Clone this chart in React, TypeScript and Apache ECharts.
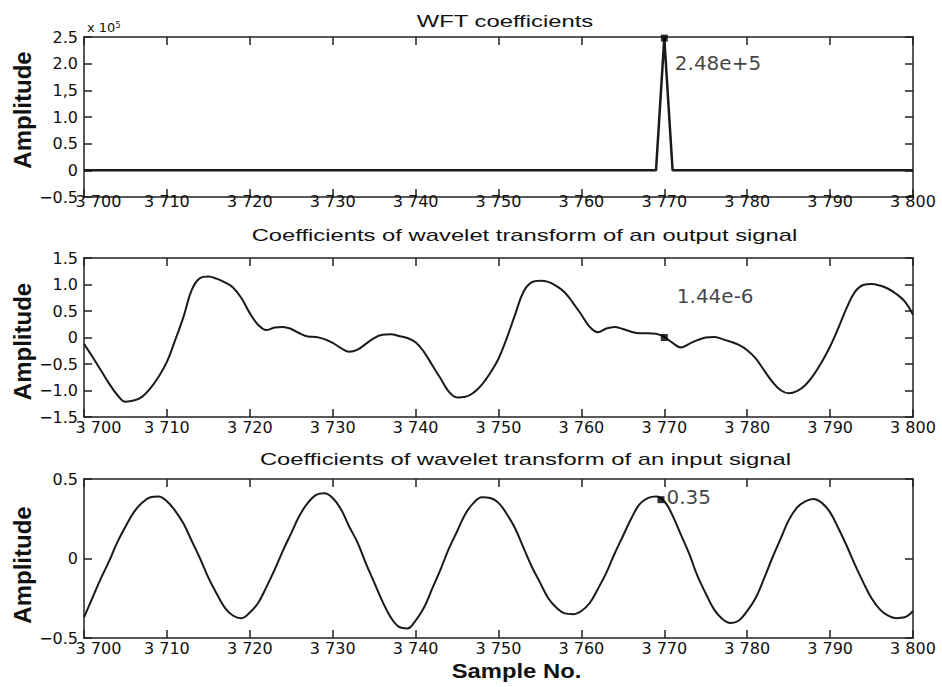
import React, { useEffect, useRef } from "react";
import * as echarts from "echarts";

// ---------- data ----------
const sampleStart = 3700;
const sampleEnd = 3800;
const xTickLabels = ["3 700", "3 710", "3 720", "3 730", "3 740", "3 750", "3 760", "3 770", "3 780", "3 790", "3 800"];

// WFT coefficients (flat zero line with a single spike)
const wftSamples = [3700, 3769, 3770, 3771, 3800];
const wftValues = [0, 0, 248000, 0, 0];
const wftTickLabels = ["\u22120.5", "0", "0.5", "1.0", "1,5", "2.0", "2.5"];

// Coefficients of wavelet transform of an output signal (samples 3700..3800)
const outputValues = [
  -0.12, -0.36, -0.61, -0.86, -1.08, -1.21, -1.19, -1.12, -0.96, -0.74,
  -0.46, -0.05, 0.39, 0.90, 1.12, 1.15, 1.11, 1.04, 0.94, 0.74,
  0.46, 0.24, 0.14, 0.19, 0.20, 0.16, 0.08, 0.02, 0.01, -0.03,
  -0.10, -0.20, -0.27, -0.23, -0.12, -0.01, 0.05, 0.06, 0.03, -0.01,
  -0.09, -0.27, -0.52, -0.77, -1.02, -1.13, -1.12, -1.04, -0.89, -0.67,
  -0.40, -0.01, 0.43, 0.86, 1.04, 1.07, 1.05, 0.97, 0.85, 0.65,
  0.43, 0.20, 0.10, 0.17, 0.20, 0.16, 0.11, 0.08, 0.08, 0.07,
  0.01, -0.10, -0.19, -0.12, -0.05, 0.00, 0.01, -0.03, -0.08, -0.14,
  -0.24, -0.39, -0.61, -0.83, -0.99, -1.05, -1.01, -0.90, -0.71, -0.46,
  -0.17, 0.18, 0.56, 0.86, 0.99, 1.01, 0.98, 0.92, 0.82, 0.68,
  0.43,
];
const outputTickLabels = ["\u22121.5", "\u22121.0", "\u22120.5", "0", "0.5", "1.0", "1.5"];

// Coefficients of wavelet transform of an input signal (samples 3700..3800)
const inputValues = [
  -0.37, -0.25, -0.13, -0.02, 0.10, 0.20, 0.29, 0.35, 0.385, 0.39,
  0.36, 0.30, 0.22, 0.11, 0.00, -0.12, -0.22, -0.31, -0.36, -0.375,
  -0.34, -0.28, -0.18, -0.07, 0.05, 0.16, 0.27, 0.35, 0.40, 0.41,
  0.38, 0.31, 0.20, 0.10, -0.03, -0.15, -0.27, -0.37, -0.43, -0.44,
  -0.39, -0.31, -0.19, -0.07, 0.06, 0.17, 0.28, 0.35, 0.385, 0.38,
  0.35, 0.28, 0.19, 0.07, -0.05, -0.15, -0.25, -0.31, -0.345, -0.35,
  -0.33, -0.28, -0.19, -0.09, 0.03, 0.14, 0.25, 0.34, 0.38, 0.39,
  0.36, 0.27, 0.15, 0.03, -0.11, -0.22, -0.32, -0.38, -0.405, -0.39,
  -0.33, -0.25, -0.13, 0.00, 0.12, 0.24, 0.32, 0.36, 0.375, 0.35,
  0.29, 0.19, 0.08, -0.04, -0.15, -0.25, -0.32, -0.36, -0.375, -0.37,
  -0.33,
];
const inputTickLabels = ["\u22120.5", "0", "0.5"];

// data tips
const markerSamples = [3770, 3770, 3769.6];
const markerValues = [248000, 1.44e-6, 0.37];
const markerLabels = ["2.48e+5", "1.44e-6", "0.35"];

const titles = [
  "WFT coefficients",
  "Coefficients of wavelet transform of an output signal",
  "Coefficients of wavelet transform of an input signal",
];

// ---------- styling ----------
const INK = "#111";
const TICK_FONT = "DejaVu Sans";
const TITLE_FONT = "Liberation Sans, Arial, sans-serif";

const pairs = (xs: number[], ys: number[]) => ys.map((y, i) => [xs[i], y]);
const seqSamples = outputValues.map((_, i) => sampleStart + i);

export default function App() {
  const ref = useRef<HTMLDivElement>(null);

  useEffect(() => {
    if (!ref.current) return;
    const chart = echarts.init(ref.current, null, { renderer: "svg" });

    const grids = [
      { left: 84, top: 37, width: 829, height: 160 },
      { left: 84, top: 258, width: 829, height: 159 },
      { left: 84, top: 479, width: 829, height: 159 },
    ];
    const yCfg = [
      { min: -50000, max: 250000, interval: 50000, labels: wftTickLabels },
      { min: -1.5, max: 1.5, interval: 0.5, labels: outputTickLabels },
      { min: -0.5, max: 0.5, interval: 0.5, labels: inputTickLabels },
    ];
    const labelMargins = [-4, 2, 2];

    const axisLine = { show: true, onZero: false, lineStyle: { color: "#222", width: 1.5 } };
    const axisTick = { show: true, inside: true, length: 8, lineStyle: { color: "#222", width: 1.5 } };

    const xAxes: any[] = [];
    const yAxes: any[] = [];
    grids.forEach((_, g) => {
      const xl = (v: number) => xTickLabels[Math.round((v - sampleStart) / 10)] ?? "";
      xAxes.push({
        type: "value",
        gridIndex: g,
        position: "bottom",
        min: sampleStart,
        max: sampleEnd,
        interval: 10,
        axisLine,
        axisTick,
        splitLine: { show: false },
        axisLabel: {
          margin: labelMargins[g],
          color: INK,
          fontFamily: TICK_FONT,
          fontSize: 16,
          formatter: (v: number) => (v === sampleStart ? `{first|${xl(v)}}` : xl(v)),
          rich: {
            first: { padding: [0, 0, 0, 29], color: INK, fontFamily: TICK_FONT, fontSize: 16 },
          },
        },
      });
      xAxes.push({
        type: "value",
        gridIndex: g,
        position: "top",
        min: sampleStart,
        max: sampleEnd,
        interval: 10,
        axisLine,
        axisTick,
        splitLine: { show: false },
        axisLabel: { show: false },
      });
      const c = yCfg[g];
      yAxes.push({
        type: "value",
        gridIndex: g,
        position: "left",
        min: c.min,
        max: c.max,
        interval: c.interval,
        axisLine,
        axisTick,
        splitLine: { show: false },
        axisLabel: {
          margin: 6,
          color: INK,
          fontFamily: TICK_FONT,
          fontSize: 16,
          formatter: (v: number) => c.labels[Math.round((v - c.min) / c.interval)] ?? "",
        },
      });
      yAxes.push({
        type: "value",
        gridIndex: g,
        position: "right",
        min: c.min,
        max: c.max,
        interval: c.interval,
        axisLine,
        axisTick,
        splitLine: { show: false },
        axisLabel: { show: false },
      });
    });

    const lineSeries = (g: number, data: number[][], width: number, smooth: number | boolean) => ({
      type: "line",
      xAxisIndex: g * 2,
      yAxisIndex: g * 2,
      data,
      showSymbol: false,
      smooth,
      lineStyle: { color: "#1a1a1a", width },
      z: 3,
    });
    const labelOffsets = [
      [2, 25],
      [4, -41.5],
      [-3, -3],
    ];
    const markerSeries = (g: number) => ({
      type: "scatter",
      xAxisIndex: g * 2,
      yAxisIndex: g * 2,
      data: [[markerSamples[g], markerValues[g]]],
      symbol: "rect",
      symbolSize: 7,
      itemStyle: { color: "#000" },
      z: 5,
      clip: false,
      label: {
        show: true,
        position: "right",
        distance: 5,
        offset: labelOffsets[g],
        formatter: () => markerLabels[g],
        color: INK,
        fontFamily: TICK_FONT,
        fontSize: 20,
      },
    });

    const titleY = [21, 234.5, 459];
    const titleX = [505, 524.5, 525.5];
    const ampY = [110, 341.5, 565];

    const graphic: any[] = [];
    titles.forEach((t, i) => {
      graphic.push({
        type: "text",
        x: titleX[i],
        y: titleY[i],
        scaleX: 1.4,
        style: {
          text: t,
          fill: INK,
          font: `17px ${TITLE_FONT}`,
          textAlign: "center",
          textVerticalAlign: "middle",
        },
      });
      graphic.push({
        type: "text",
        x: 22,
        y: ampY[i],
        rotation: Math.PI / 2,
        style: {
          text: "Amplitude",
          fill: INK,
          font: `bold 24px ${TITLE_FONT}`,
          textAlign: "center",
          textVerticalAlign: "middle",
        },
      });
    });
    graphic.push({
      type: "text",
      x: 516.5,
      y: 671.5,
      scaleX: 1.19,
      style: {
        text: "Sample No.",
        fill: INK,
        font: `bold 20px ${TITLE_FONT}`,
        textAlign: "center",
        textVerticalAlign: "middle",
      },
    });
    graphic.push({
      type: "text",
      x: 87,
      y: 27,
      style: { text: "x 10", fill: INK, font: `13px ${TICK_FONT}`, textAlign: "left", textVerticalAlign: "middle" },
    });
    graphic.push({
      type: "text",
      x: 115.5,
      y: 25,
      style: { text: "5", fill: INK, font: `8px ${TICK_FONT}`, textAlign: "left", textVerticalAlign: "middle" },
    });

    chart.setOption({
      animation: false,
      backgroundColor: "#fff",
      grid: grids,
      xAxis: xAxes,
      yAxis: yAxes,
      series: [
        lineSeries(0, pairs(wftSamples, wftValues), 2.5, false),
        markerSeries(0),
        lineSeries(1, pairs(seqSamples, outputValues), 2, 0.4),
        markerSeries(1),
        lineSeries(2, pairs(seqSamples, inputValues), 2, 0.4),
        markerSeries(2),
      ],
      graphic,
    });

    return () => chart.dispose();
  }, []);

  return <div ref={ref} style={{ position: "absolute", left: 0, top: 0, width: 942, height: 687 }} />;
}
